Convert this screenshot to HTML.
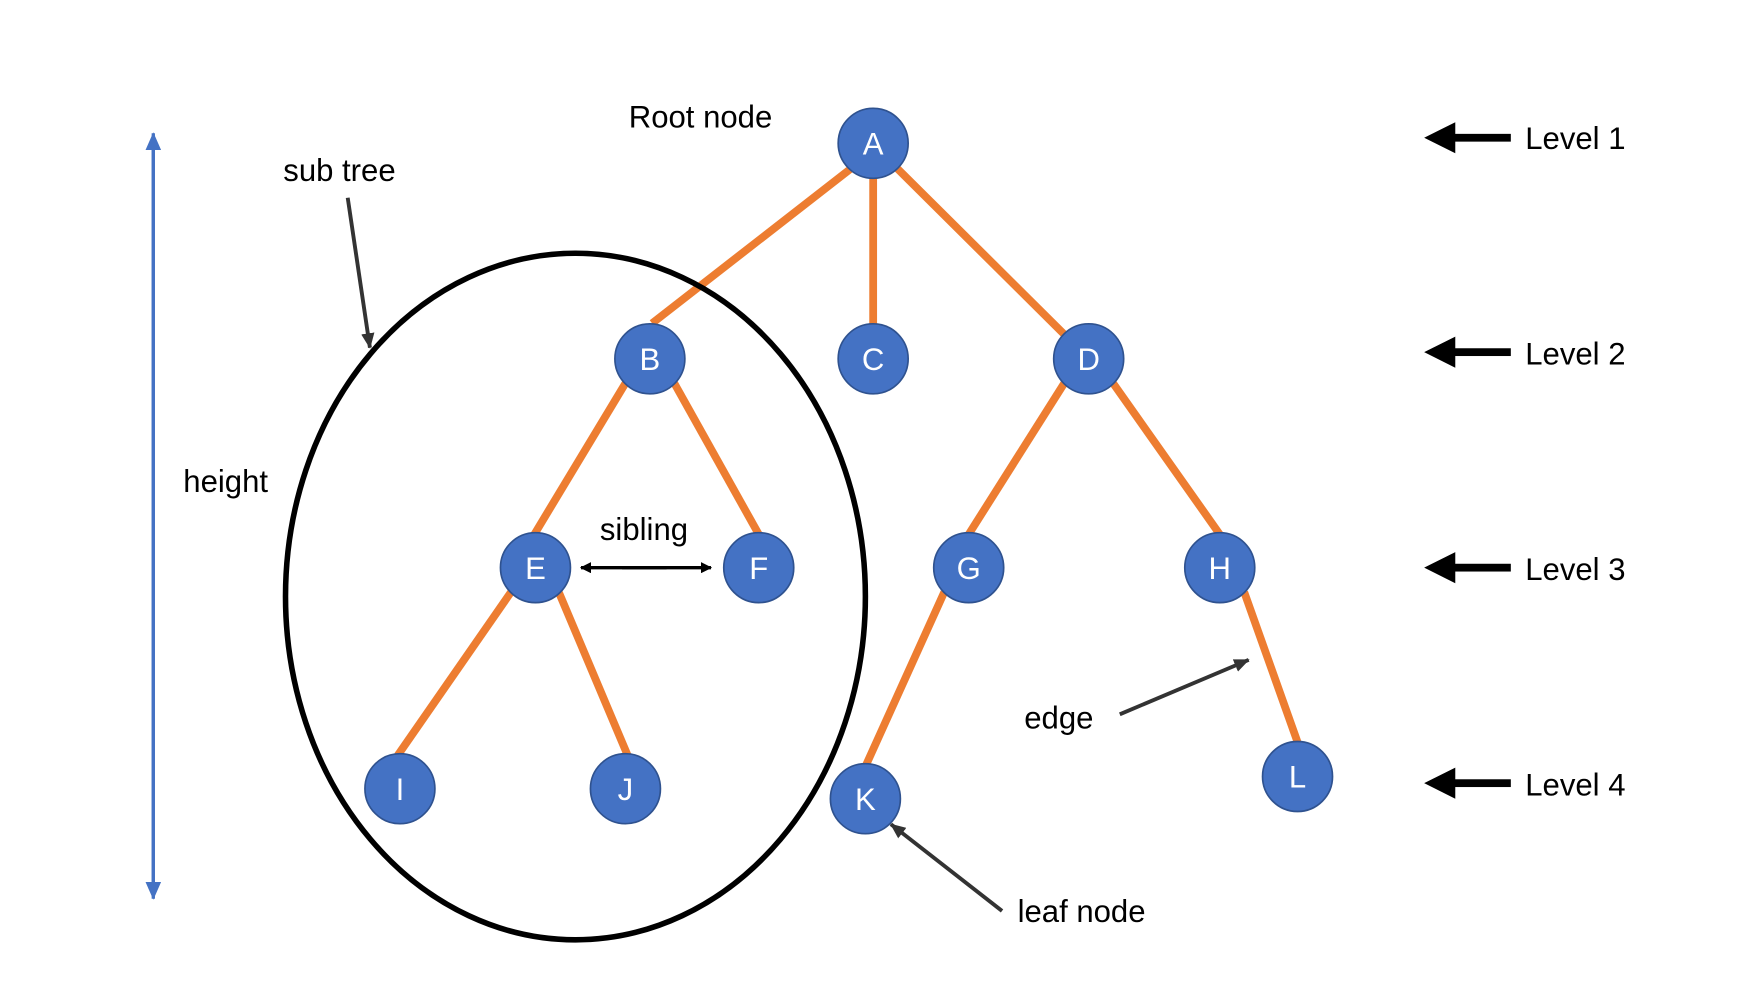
<!DOCTYPE html>
<html><head><meta charset="utf-8"><style>html,body{margin:0;padding:0;background:#fff;}svg{display:block}</style></head>
<body>
<svg width="1743" height="1008" viewBox="0 0 1569 907.4" preserveAspectRatio="none" xmlns="http://www.w3.org/2000/svg" font-family="Liberation Sans, DejaVu Sans, sans-serif">
<defs>
<marker id="ah" markerWidth="10" markerHeight="10" refX="9" refY="5" orient="auto" markerUnits="userSpaceOnUse"><path d="M0,0 L10,5 L0,10 Z" fill="#000"/></marker>
<marker id="ahg" markerWidth="14" markerHeight="12" refX="13" refY="6" orient="auto" markerUnits="userSpaceOnUse"><path d="M0,0 L14,6 L0,12 Z" fill="#333"/></marker>
<marker id="ahb" markerWidth="16" markerHeight="14" refX="15" refY="7" orient="auto" markerUnits="userSpaceOnUse"><path d="M0,0 L16,7 L0,14 Z" fill="#4472C4"/></marker>
</defs>
<g stroke="#ED7D31" stroke-width="7" stroke-linecap="butt">
<line x1="767" y1="151" x2="587" y2="291"/>
<line x1="786" y1="160" x2="786" y2="292"/>
<line x1="806" y1="150" x2="958" y2="301"/>
<line x1="563" y1="345" x2="481" y2="481"/>
<line x1="607" y1="345" x2="683" y2="481"/>
<line x1="958" y1="345" x2="872" y2="481"/>
<line x1="1002" y1="345" x2="1098" y2="481"/>
<line x1="460" y1="533" x2="358" y2="680"/>
<line x1="503" y1="533" x2="565" y2="680"/>
<line x1="850" y1="533" x2="779" y2="690"/>
<line x1="1120" y1="533" x2="1168" y2="668"/>
</g>
<ellipse cx="518" cy="537" rx="261" ry="309" fill="none" stroke="#000" stroke-width="5"/>
<g fill="#4472C4" stroke="#2F528F" stroke-width="1.5">
<circle cx="786" cy="129" r="31.5"/><circle cx="585" cy="323" r="31.5"/><circle cx="786" cy="323" r="31.5"/><circle cx="980" cy="323" r="31.5"/>
<circle cx="482" cy="511" r="31.5"/><circle cx="683" cy="511" r="31.5"/><circle cx="872" cy="511" r="31.5"/><circle cx="1098" cy="511" r="31.5"/>
<circle cx="360" cy="710" r="31.5"/><circle cx="563" cy="710" r="31.5"/><circle cx="779" cy="719" r="31.5"/><circle cx="1168" cy="699" r="31.5"/>
</g>
<g fill="#fff" font-size="28" text-anchor="middle">
<text x="786" y="139">A</text><text x="585" y="333">B</text><text x="786" y="333">C</text><text x="980" y="333">D</text>
<text x="482" y="521">E</text><text x="683" y="521">F</text><text x="872" y="521">G</text><text x="1098" y="521">H</text>
<text x="360" y="720">I</text><text x="563" y="720">J</text><text x="779" y="729">K</text><text x="1168" y="709">L</text>
</g>
<g fill="#000" font-size="28">
<text x="566" y="115">Root node</text>
<text x="255" y="163">sub tree</text>
<text x="165" y="443">height</text>
<text x="540" y="486">sibling</text>
<text x="922" y="656">edge</text>
<text x="916" y="830">leaf node</text>
<text x="1373" y="134">Level 1</text>
<text x="1373" y="328">Level 2</text>
<text x="1373" y="522">Level 3</text>
<text x="1373" y="716">Level 4</text>
</g>
<g fill="#000">
<rect x="1305" y="120.5" width="55" height="7"/><path d="M1282,124 L1310,110 L1310,138 Z"/>
<rect x="1305" y="313.5" width="55" height="7"/><path d="M1282,317 L1310,303 L1310,331 Z"/>
<rect x="1305" y="507.5" width="55" height="7"/><path d="M1282,511 L1310,497 L1310,525 Z"/>
<rect x="1305" y="701.5" width="55" height="7"/><path d="M1282,705 L1310,691 L1310,719 Z"/>
</g>
<line x1="138" y1="800" x2="138" y2="120" stroke="#4472C4" stroke-width="3" marker-end="url(#ahb)"/>
<line x1="138" y1="130" x2="138" y2="809" stroke="#4472C4" stroke-width="3" marker-end="url(#ahb)"/>
<line x1="600" y1="511" x2="523" y2="511" stroke="#000" stroke-width="3" marker-end="url(#ah)"/>
<line x1="560" y1="511" x2="640" y2="511" stroke="#000" stroke-width="3" marker-end="url(#ah)"/>
<g stroke="#333" stroke-width="3.5">
<line x1="313" y1="178" x2="333" y2="313" marker-end="url(#ahg)"/>
<line x1="1008" y1="643" x2="1124" y2="594" marker-end="url(#ahg)"/>
<line x1="902" y1="820" x2="802" y2="742" marker-end="url(#ahg)"/>
</g>
</svg>
</body></html>
